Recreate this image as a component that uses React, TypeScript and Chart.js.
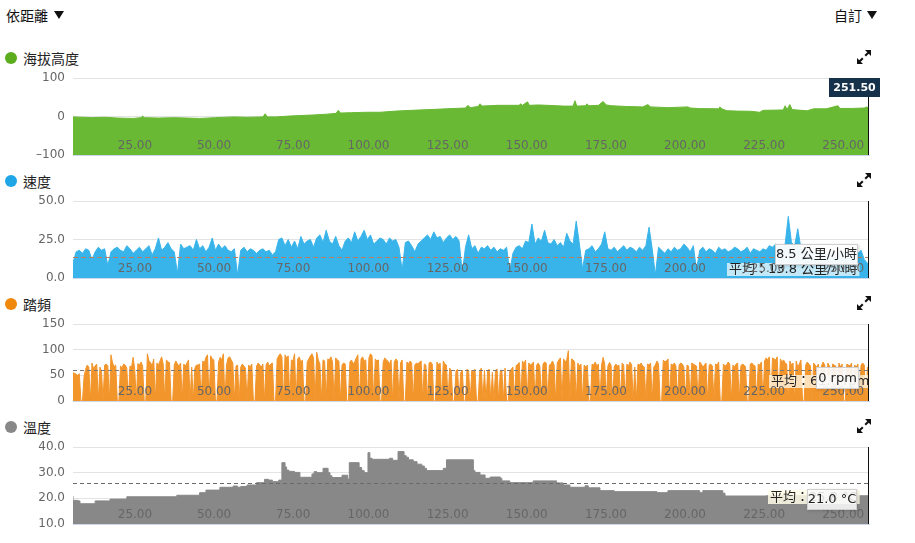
import React, { useEffect, useRef } from 'react';
import { Chart, registerables } from 'chart.js';

Chart.register(...registerables);

const FONT = '"DejaVu Sans", "Noto Sans CJK TC", sans-serif';
const CJK = '"Noto Sans CJK TC", "DejaVu Sans", sans-serif';

// ---------- data ----------
const xTicks = [25, 50, 75, 100, 125, 150, 175, 200, 225, 250];
const cursorDist = 251.5;

const elevTicks = [-100, 0, 100];
const speedTicks = [0, 25, 50];
const cadenceTicks = [0, 50, 100, 150];
const tempTicks = [10, 20, 30, 40];

const elevDist = [0, 3, 6, 10, 14, 19, 21.5, 22, 22.5, 27, 32, 36, 40, 45, 50.7, 55, 60, 60.7, 61.4, 64.3, 68, 71.7, 76, 80, 83.1, 83.8, 84.5, 88, 93, 97, 102, 107, 112.8, 118, 124, 124.8, 125.5, 128, 128.6, 129.2, 134, 138, 141, 141.4, 142, 143.6, 144.2, 147, 150, 155, 158, 158.6, 159.2, 162, 162.4, 163, 166, 167.5, 168.5, 170, 175, 180, 181.7, 182.4, 188, 194.3, 195, 198, 204, 204.4, 205, 206.6, 210, 214, 217, 218, 224.4, 225, 225.6, 226.5, 227.2, 230, 232, 234, 238, 241.7, 242.3, 246, 250, 250.8, 251.5];
const elevVals = [-1, -2, -3, -2, -4, -5, -3, 1, -3, -4, -3, -4, -5, -3, -1, -2, -1, 7, -1, -1, 1, 2.5, 4, 6, 8, 16, 9, 10, 11, 11, 14, 16, 18, 20, 22, 29, 23, 26, 33, 27, 29, 29, 29, 33, 29, 38, 29, 30, 29, 27, 27, 41, 27, 28, 33, 28, 29, 39, 30, 28, 26, 25, 31, 25, 23, 25, 22, 20.5, 20, 25, 20, 15, 14, 13.6, 11, 16, 17, 28, 18, 31, 18, 16, 15, 20, 20, 28, 21, 21, 22, 25, 22];

// speed, one sample per km (last sample at the cursor)
const speedVals = [
  10, 17, 18, 16, 19, 18, 12, 17, 20, 18,
  19, 8, 17, 19, 20, 18, 17, 21, 19, 16,
  18, 20, 17, 19, 21, 15, 19, 26, 18, 20,
  23, 19, 17, 3, 22, 19, 20, 21, 18, 25,
  19, 21, 17, 20, 26, 18, 22, 19, 21, 18,
  17, 19, 2, 18, 20, 17, 19, 18, 16, 18,
  19, 17, 18, 15, 17, 25, 26, 21, 25, 20,
  24, 19, 27, 22, 24, 25, 20, 26, 28, 23,
  31, 24, 22, 27, 21, 18, 24, 26, 23, 30,
  24, 27, 31, 25, 28, 22, 24, 26, 25, 22,
  26, 24, 25, 20, 5, 23, 24, 21, 17, 22,
  24, 26, 28, 25, 30, 26, 27, 23, 26, 28,
  25, 27, 24, 3, 20, 28, 19, 21, 16, 20,
  19, 21, 18, 20, 17, 19, 18, 20, 4, 16,
  20, 21, 19, 24, 23, 35, 22, 26, 24, 31,
  23, 22, 25, 21, 23, 20, 29, 24, 22, 37,
  22, 6, 18, 19, 21, 17, 19, 22, 30, 19,
  18, 20, 17, 19, 21, 18, 20, 19, 17, 20,
  18, 21, 33, 19, 2, 20, 18, 16, 19, 17,
  20, 18, 19, 22, 20, 17, 21, 5, 18, 20,
  17, 19, 18, 16, 20, 18, 19, 17, 18, 20,
  19, 17, 18, 20, 16, 19, 18, 17, 19, 18,
  21, 20, 22, 21, 20, 22, 40, 23, 21, 32,
  19, 17, 20, 18, 16, 19, 17, 18, 15, 16,
  18, 14, 17, 16, 19, 15, 17, 14, 16, 18,
  12, 8.5,
];

// cadence, one sample per 0.5 km (0 … 251.5)
const cadenceVals = [
  55, 54, 52, 50, 53, 0, 0, 48, 62, 70,
  66, 0, 74, 63, 68, 72, 0, 66, 58, 0,
  70, 72, 68, 0, 90, 74, 67, 70, 0, 0,
  68, 65, 72, 70, 64, 0, 68, 66, 85, 62,
  0, 73, 70, 76, 68, 0, 0, 92, 78, 75,
  68, 82, 0, 74, 70, 78, 86, 72, 0, 80,
  76, 75, 0, 0, 70, 78, 72, 68, 74, 0,
  72, 68, 74, 80, 0, 66, 0, 64, 70, 70,
  72, 0, 78, 74, 85, 90, 0, 88, 82, 80,
  0, 0, 76, 85, 80, 92, 0, 70, 84, 86,
  80, 74, 0, 68, 70, 0, 66, 72, 68, 64,
  0, 70, 66, 72, 0, 0, 68, 74, 70, 66,
  72, 0, 70, 76, 68, 72, 74, 0, 0, 82,
  88, 92, 86, 0, 90, 84, 88, 0, 80, 78,
  92, 0, 82, 86, 75, 80, 0, 0, 76, 82,
  88, 92, 84, 0, 95, 80, 72, 0, 80, 78,
  0, 82, 80, 86, 76, 0, 84, 80, 78, 0,
  70, 74, 72, 0, 0, 76, 80, 72, 76, 84,
  90, 0, 82, 86, 78, 80, 0, 84, 92, 88,
  0, 82, 78, 80, 0, 0, 76, 84, 80, 78,
  72, 80, 0, 76, 82, 78, 0, 74, 80, 0,
  0, 76, 72, 78, 74, 0, 70, 74, 72, 76,
  78, 0, 72, 70, 0, 74, 76, 72, 0, 0,
  76, 70, 74, 0, 78, 72, 70, 0, 64, 60,
  0, 0, 58, 62, 0, 55, 60, 0, 0, 62,
  58, 0, 60, 56, 62, 0, 0, 58, 64, 0,
  60, 0, 58, 62, 0, 56, 0, 60, 62, 0,
  58, 60, 0, 64, 0, 0, 58, 62, 66, 0,
  68, 72, 75, 0, 78, 72, 80, 0, 74, 70,
  72, 76, 0, 70, 74, 68, 0, 72, 76, 74,
  0, 70, 72, 78, 70, 0, 74, 80, 84, 0,
  82, 76, 80, 98, 0, 82, 80, 76, 0, 74,
  68, 72, 0, 70, 66, 70, 0, 0, 72, 70,
  76, 68, 72, 0, 70, 85, 72, 0, 68, 75,
  70, 0, 66, 72, 68, 70, 0, 74, 70, 0,
  72, 68, 76, 70, 0, 66, 0, 72, 70, 74,
  68, 66, 0, 72, 70, 74, 0, 66, 70, 78,
  72, 0, 0, 80, 76, 78, 82, 0, 72, 70,
  74, 68, 0, 70, 74, 72, 66, 0, 70, 68,
  0, 74, 72, 70, 68, 0, 76, 72, 66, 70,
  74, 0, 70, 72, 68, 0, 72, 70, 76, 0,
  0, 72, 68, 70, 76, 72, 0, 70, 66, 72,
  74, 0, 68, 72, 70, 66, 0, 0, 72, 74,
  70, 68, 0, 72, 70, 76, 0, 78, 84, 80,
  86, 0, 84, 82, 80, 86, 0, 82, 76, 80,
  74, 72, 0, 78, 70, 74, 0, 78, 66, 72,
  80, 0, 0, 70, 76, 72, 68, 0, 74, 70,
  66, 72, 0, 68, 76, 70, 0, 74, 68, 0,
  72, 70, 68, 0, 74, 66, 72, 0, 0, 72,
  70, 68, 74, 0, 70, 66, 72, 0, 70, 74,
  70, 0, 66, 0,
];

const tempDist = [0, 1.6, 2.2, 7, 11.7, 17, 32.8, 40, 42, 46.4, 50.6, 52, 53, 55, 58, 60.5, 61.8, 63, 65, 66, 67, 67.5, 68.2, 70, 71.7, 75.5, 76.2, 77, 79, 80.6, 81.2, 81.8, 85, 86.8, 87.3, 90.4, 91.2, 92, 93.2, 93.8, 94.5, 100, 101, 102.7, 104.6, 105.3, 106, 107.5, 108.7, 110.2, 111, 111.7, 117, 118, 126.5, 127, 128.6, 130.2, 131.8, 135, 135.5, 138, 145.4, 152.8, 154.9, 157, 161.8, 162.8, 166.5, 171, 184.5, 187.6, 188, 198, 199, 205.3, 206, 219, 251.5];
const tempVals = [20.9, 19.2, 19.0, 17.9, 19.0, 19.7, 20.6, 21.2, 22.2, 23.2, 24.3, 24.8, 24.3, 24.6, 25.2, 26.1, 27.4, 27.1, 26.5, 27.1, 33.9, 32.2, 31.0, 30.5, 30.1, 28.2, 29.5, 30.4, 30.0, 31.7, 30.0, 28.8, 28.1, 29.0, 27.5, 33.9, 32.0, 30.8, 30.0, 37.8, 35.6, 35.2, 35.6, 34.8, 38.2, 36.6, 36.0, 35.0, 34.3, 33.3, 32.6, 31.7, 30.8, 31.7, 35.0, 30.8, 30.1, 29.1, 27.8, 28.3, 27.8, 26.8, 26.1, 26.8, 26.0, 25.2, 24.3, 24.9, 24.1, 23.0, 22.6, 22.2, 22.4, 23.0, 22.2, 23.0, 22.0, 20.9, 21.0];

const speedAvg = 13.8;
const cadenceAvg = 61.0;
const tempAvg = 25.8;
const speedAtCursor = 8.5;
const cadenceAtCursor = 0;
const tempAtCursor = 21.0;

// distance samples for the evenly sampled series
const speedDist = speedVals.map((_, i) => (i === speedVals.length - 1 ? cursorDist : i));
const cadenceDist = cadenceVals.map((_, i) => i * 0.5);

// ---------- panels ----------
type Box = { text: string; dx: number; dy: number; w: number; h: number; bg: string; color: string; font: string; border?: string; shadow?: boolean };
type AvgLabel = { text: string; dx: number; dy: number; h: number; bg: string };
type Panel = {
  title: string; dot: string; color: string; dist: number[]; vals: number[];
  yMin: number; yMax: number; yTicks: number[]; fmt: (v: number) => string;
  fill: string; stepped: boolean | string; plotTop: number;
  avg?: number; avgColor?: string; dash?: number[]; avgLabel?: AvgLabel; box: Box; cursorGap: number;
};

const panels: Panel[] = [
  {
    title: '海拔高度', dot: '#5cad1e', color: '#69b934', dist: elevDist, vals: elevVals,
    yMin: -100, yMax: 100, yTicks: elevTicks,
    fmt: (v) => (v < 0 ? '–' + Math.abs(v) : String(v)),
    fill: 'start', stepped: false, plotTop: 78, cursorGap: 19,
    box: { text: cursorDist.toFixed(2), dx: -40, dy: 0, w: 51, h: 19, bg: '#16324b', color: '#ffffff', font: 'bold 11px ' + FONT },
  },
  {
    title: '速度', dot: '#1ea6e6', color: '#38b4ea', dist: speedDist, vals: speedVals,
    yMin: 0, yMax: 50, yTicks: speedTicks, fmt: (v) => v.toFixed(1),
    fill: 'origin', stepped: false, plotTop: 201, cursorGap: 0,
    avg: speedAvg, avgColor: '#b97d5e', dash: [5, 3],
    avgLabel: { text: '平均：' + speedAvg.toFixed(1) + ' 公里/小時', dx: -142, dy: 62, h: 13, bg: 'rgba(255,255,255,0.7)' },
    box: { text: speedAtCursor.toFixed(1) + ' 公里/小時', dx: -94, dy: 43, w: 83, h: 21, bg: 'rgba(255,255,255,0.95)', color: '#222', font: '13px ' + FONT, border: '#cfcfcf', shadow: true },
  },
  {
    title: '踏頻', dot: '#f0880c', color: '#f2952b', dist: cadenceDist, vals: cadenceVals,
    yMin: 0, yMax: 150, yTicks: cadenceTicks, fmt: (v) => String(v),
    fill: 'origin', stepped: false, plotTop: 324, cursorGap: 0,
    avg: cadenceAvg, avgColor: '#7a7a7a', dash: [4, 3],
    avgLabel: { text: '平均：' + cadenceAvg.toFixed(1) + ' rpm', dx: -100, dy: 51, h: 13, bg: 'rgba(255,250,235,0.75)' },
    box: { text: cadenceAtCursor + ' rpm', dx: -53, dy: 43, w: 43, h: 22, bg: 'rgba(255,255,255,0.9)', color: '#222', font: '13px ' + FONT, border: '#cfcfcf', shadow: true },
  },
  {
    title: '溫度', dot: '#888888', color: '#888888', dist: tempDist, vals: tempVals,
    yMin: 10, yMax: 40, yTicks: tempTicks, fmt: (v) => v.toFixed(1),
    fill: 'start', stepped: 'after', plotTop: 447, cursorGap: 0,
    avg: tempAvg, avgColor: '#6a6a6a', dash: [4, 3],
    avgLabel: { text: '平均：' + tempAvg.toFixed(1) + ' °C', dx: -101, dy: 43, h: 14, bg: 'rgba(255,252,232,0.85)' },
    box: { text: tempAtCursor.toFixed(1) + ' °C', dx: -62, dy: 42, w: 50, h: 21, bg: 'rgba(255,255,255,0.85)', color: '#222', font: '13px ' + FONT, border: '#cfcfcf', shadow: true },
  },
];

const PAD_TOP = 16;
const PAD_BOTTOM = 16;
const PLOT_H = 77;
const CANVAS_W = 915;
const PLOT_LEFT = 73;
const PLOT_RIGHT = 869;

function makeOverlay(p: Panel) {
  return {
    id: 'overlay',
    afterDatasetsDraw(chart: any) {
      const { ctx, chartArea: ca } = chart;
      if (p.avg != null) {
        const py = Math.round(chart.scales.y.getPixelForValue(p.avg)) + 0.5;
        ctx.save();
        ctx.strokeStyle = p.avgColor;
        ctx.lineWidth = 1;
        ctx.setLineDash(p.dash || [4, 3]);
        ctx.beginPath();
        ctx.moveTo(ca.left, py);
        ctx.lineTo(ca.right, py);
        ctx.stroke();
        ctx.restore();
      }
      if (p.avgLabel) {
        const L = p.avgLabel;
        ctx.save();
        ctx.font = '13px ' + FONT;
        const w = ctx.measureText(L.text).width + 4;
        const x = ca.right + L.dx;
        const y = ca.top + L.dy;
        ctx.fillStyle = L.bg;
        ctx.fillRect(x, y, w, L.h);
        ctx.fillStyle = '#222';
        ctx.textBaseline = 'middle';
        ctx.textAlign = 'left';
        ctx.fillText(L.text, x + 2, y + L.h / 2 + 0.5);
        ctx.restore();
      }
    },
    afterDraw(chart: any) {
      const { ctx, chartArea: ca } = chart;
      const cx = Math.round(chart.scales.x.getPixelForValue(cursorDist)) - 0.5;
      ctx.save();
      ctx.strokeStyle = '#111';
      ctx.lineWidth = 1;
      ctx.beginPath();
      ctx.moveTo(cx, ca.top + p.cursorGap);
      ctx.lineTo(cx, ca.bottom);
      ctx.stroke();
      const B = p.box;
      const x = ca.right + B.dx;
      const y = ca.top + B.dy;
      if (B.shadow) {
        ctx.shadowColor = 'rgba(0,0,0,0.18)';
        ctx.shadowBlur = 3;
        ctx.shadowOffsetX = 1;
        ctx.shadowOffsetY = 1;
      }
      ctx.fillStyle = B.bg;
      ctx.fillRect(x, y, B.w, B.h);
      ctx.shadowColor = 'transparent';
      ctx.shadowBlur = 0;
      ctx.shadowOffsetX = 0;
      ctx.shadowOffsetY = 0;
      if (B.border) {
        ctx.strokeStyle = B.border;
        ctx.strokeRect(x + 0.5, y + 0.5, B.w - 1, B.h - 1);
      }
      ctx.fillStyle = B.color;
      ctx.font = B.font;
      ctx.textAlign = 'center';
      ctx.textBaseline = 'middle';
      ctx.fillText(B.text, x + B.w / 2, y + B.h / 2 + 0.5);
      ctx.restore();
    },
  };
}

function ChartPanel({ p }: { p: Panel }) {
  const ref = useRef<HTMLCanvasElement | null>(null);
  useEffect(() => {
    if (!ref.current) return;
    const points = p.dist.map((d, i) => ({ x: d, y: p.vals[i] }));
    const tickFont = { family: FONT, size: 12 };
    const chart = new Chart(ref.current, {
      type: 'line',
      data: {
        datasets: [
          {
            data: points,
            fill: p.fill as any,
            backgroundColor: p.color,
            borderColor: p.color,
            borderWidth: 1,
            pointRadius: 0,
            tension: 0,
            stepped: p.stepped as any,
          },
        ],
      },
      options: {
        animation: false,
        responsive: false,
        maintainAspectRatio: false,
        events: [],
        layout: { padding: { left: 0, right: CANVAS_W - PLOT_RIGHT, top: PAD_TOP, bottom: PAD_BOTTOM } },
        plugins: { legend: { display: false }, tooltip: { enabled: false } },
        scales: {
          x: {
            type: 'linear',
            min: 0,
            max: cursorDist,
            grid: { display: true, drawOnChartArea: false, drawTicks: false },
            border: { display: true, color: '#ccd6eb', z: 1 },
            ticks: {
              z: 1,
              mirror: true,
              padding: 2,
              align: 'end',
              color: '#666',
              font: tickFont,
              autoSkip: false,
              maxRotation: 0,
              callback: (v: any) => Number(v).toFixed(2),
            },
            afterBuildTicks: (s: any) => {
              s.ticks = xTicks.map((v) => ({ value: v }));
            },
            afterFit: (s: any) => {
              s.height = 0;
            },
          },
          y: {
            type: 'linear',
            min: p.yMin,
            max: p.yMax,
            grid: { color: '#e3e3e3', drawTicks: false },
            border: { display: false },
            ticks: {
              padding: 8,
              color: '#666',
              font: tickFont,
              callback: (v: any) => p.fmt(Number(v)),
            },
            afterBuildTicks: (s: any) => {
              s.ticks = p.yTicks.map((v) => ({ value: v }));
            },
            afterFit: (s: any) => {
              s.width = PLOT_LEFT;
            },
          },
        },
      } as any,
      plugins: [makeOverlay(p)],
    });
    return () => chart.destroy();
  }, [p]);
  return (
    <canvas
      ref={ref}
      width={CANVAS_W}
      height={PLOT_H + PAD_TOP + PAD_BOTTOM}
      style={{ position: 'absolute', left: 0, top: p.plotTop - PAD_TOP, display: 'block' }}
    />
  );
}

function Triangle({ left, top }: { left: number; top: number }) {
  return (
    <div
      style={{
        position: 'absolute', left, top, width: 0, height: 0,
        borderLeft: '5px solid transparent', borderRight: '5px solid transparent', borderTop: '8px solid #111',
      }}
    />
  );
}

function ExpandIcon({ top }: { top: number }) {
  return (
    <svg width="14" height="14" viewBox="0 0 14 14" style={{ position: 'absolute', left: 857, top }}>
      <path d="M14 0 L14 6 L8 0 Z" fill="#111" />
      <path d="M11.8 2.2 L8.2 5.8" stroke="#111" strokeWidth="2" />
      <path d="M0 14 L0 8 L6 14 Z" fill="#111" />
      <path d="M2.2 11.8 L5.8 8.2" stroke="#111" strokeWidth="2" />
    </svg>
  );
}

export default function App() {
  return (
    <div style={{ position: 'absolute', left: 0, top: 0, width: 915, height: 543, background: '#fff', overflow: 'hidden', fontFamily: CJK }}>
      <div style={{ position: 'absolute', left: 6, top: 6, fontSize: 14, lineHeight: '18px', color: '#111' }}>依距離</div>
      <Triangle left={54} top={11} />
      <div style={{ position: 'absolute', left: 834, top: 6, fontSize: 14, lineHeight: '18px', color: '#111' }}>自訂</div>
      <Triangle left={867} top={11} />
      {panels.map((p, i) => (
        <React.Fragment key={i}>
          <div
            style={{
              position: 'absolute', left: 5, top: p.plotTop - 26, width: 12, height: 12,
              borderRadius: '50%', background: p.dot,
            }}
          />
          <div style={{ position: 'absolute', left: 23, top: p.plotTop - 29, fontSize: 14, lineHeight: '18px', color: '#222' }}>
            {p.title}
          </div>
          <ExpandIcon top={p.plotTop - 28} />
          <ChartPanel p={p} />
        </React.Fragment>
      ))}
    </div>
  );
}
